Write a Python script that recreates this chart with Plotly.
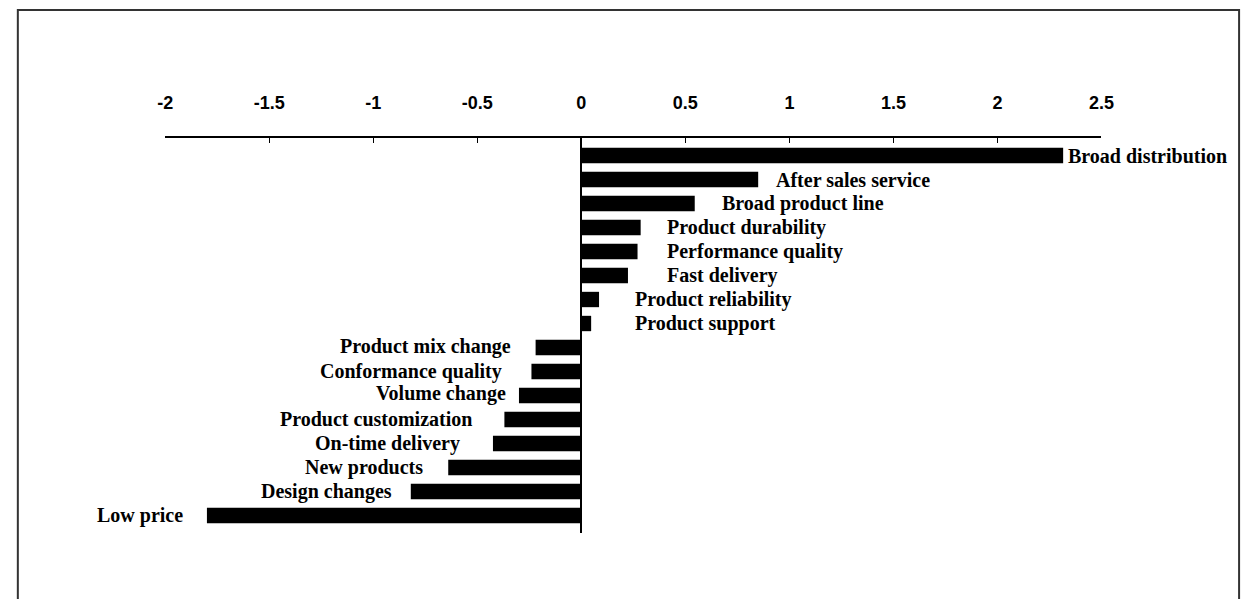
import plotly.graph_objects as go

categories = [
    "Broad distribution", "After sales service", "Broad product line",
    "Product durability", "Performance quality", "Fast delivery",
    "Product reliability", "Product support", "Product mix change",
    "Conformance quality", "Volume change", "Product customization",
    "On-time delivery", "New products", "Design changes", "Low price",
]
values = [2.316, 0.85, 0.545, 0.285, 0.27, 0.224, 0.085, 0.047,
          -0.22, -0.24, -0.30, -0.37, -0.425, -0.64, -0.82, -1.80]
tick_vals = [-2, -1.5, -1, -0.5, 0, 0.5, 1, 1.5, 2, 2.5]
tick_text = ["-2", "-1.5", "-1", "-0.5", "0", "0.5", "1", "1.5", "2", "2.5"]

# label gap from bar end, in pixels (styling only)
label_gaps = [3, 16, 25, 24, 27, 37, 34, 42, 23, 27, 11, 30, 31, 23, 17, 22]
label_yshift = [0, 0, 0, 0, 0, 0, 0, 0, 1, 0, 2, 0, 0, 0, 0, 0]

W, H = 1257, 599
label_font = dict(family="Liberation Serif, Times New Roman, serif", size=20, color="black")

fig = go.Figure()
fig.add_trace(go.Bar(
    y=categories, x=values, orientation="h",
    marker=dict(color="black", line=dict(width=0)),
    width=0.64, hoverinfo="x+y", showlegend=False,
))

for c, v, g, ys in zip(categories, values, label_gaps, label_yshift):
    fig.add_annotation(
        x=v, y=c, xref="x", yref="y", text="<b>%s</b>" % c,
        showarrow=False, font=label_font,
        xanchor="left" if v >= 0 else "right",
        xshift=g if v >= 0 else -g, yshift=ys, yanchor="middle",
    )

fig.update_layout(
    width=W, height=H,
    margin=dict(l=0, r=0, t=0, b=0),
    paper_bgcolor="white", plot_bgcolor="white",
    xaxis=dict(
        domain=[160 / W, 1112 / W], range=[-2, 2.5],
        side="top", tickvals=tick_vals,
        ticktext=["<b>%s</b>" % t for t in tick_text],
        tickfont=dict(family="Liberation Sans, Arial, sans-serif", size=18, color="black"),
        showline=True, linecolor="black", linewidth=1.5,
        ticks="inside", ticklen=5, tickcolor="black", tickwidth=1,
        showgrid=False, zeroline=True, zerolinecolor="black", zerolinewidth=1.5,
        ticklabelstandoff=20, fixedrange=True,
    ),
    yaxis=dict(
        domain=[1 - 533 / H, 1 - 138 / H], range=[15.73, -0.73],
        showticklabels=False, showgrid=False, showline=False, ticks="",
        zeroline=False, fixedrange=True,
    ),
    shapes=[dict(
        type="rect", xref="paper", yref="paper",
        x0=10 / W, x1=1252 / W, y0=-0.02, y1=1 - 10 / H,
        line=dict(color="#333333", width=2), fillcolor="rgba(0,0,0,0)",
    )],
)

fig.write_html(
    "out.html",
    config={"displayModeBar": False},
    post_script="document.body.style.margin='0';document.body.style.overflow='hidden';",
)
